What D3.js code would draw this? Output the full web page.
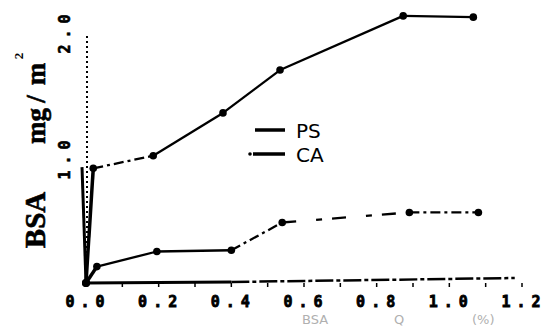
<!DOCTYPE html>
<html><head><meta charset="utf-8">
<script src="https://cdn.jsdelivr.net/npm/d3@7"></script>
<style>html,body{margin:0;padding:0;background:#fff;}svg{display:block;}</style>
</head><body>
<svg id="c" width="548" height="328"></svg>
<script>
// ---- data ----
const xTickValues = [0, 0.2, 0.4, 0.6, 0.8, 1.0, 1.2];
const xTickLabels = ["0.0", "0.2", "0.4", "0.6", "0.8", "1.0", "1.2"];
const yTickValues = [1.0, 2.0];
const yTickLabels = ["1.0", "2.0"];
const seriesNames = ["PS", "CA"];
const psConc = [0, 0.02, 0.185, 0.377, 0.534, 0.873, 1.066];
const psValues = [0, 0.91, 1.01, 1.35, 1.69, 2.12, 2.11];
const caConc = [0, 0.03, 0.195, 0.40, 0.54, 0.89, 1.08];
const caValues = [0, 0.13, 0.25, 0.26, 0.48, 0.56, 0.56];

const svg = d3.select("#c");
const x = d3.scaleLinear().domain([0, 1.2]).range([86, 522]);
const y = d3.scaleLinear().domain([0, 2.0]).range([283, 31]);

// y axis (dotted)
svg.append("line").attr("x1", x(0)+1).attr("x2", x(0)+1).attr("y1", y(0)).attr("y2", 33)
  .attr("stroke", "#000").attr("stroke-width", 2).attr("stroke-dasharray", "2,3");
svg.append("line").attr("x1", x(0)-4).attr("x2", x(0)).attr("y1", y(0.92)).attr("y2", y(0))
  .attr("stroke", "#000").attr("stroke-width", 3);

// x axis
svg.append("line").attr("x1", x(0)).attr("x2", x(0.4)).attr("y1", y(0)).attr("y2", y(0)-1)
  .attr("stroke", "#000").attr("stroke-width", 3);
svg.append("line").attr("x1", x(0.4)).attr("x2", x(1.18)).attr("y1", y(0)-1).attr("y2", y(0)-5)
  .attr("stroke", "#000").attr("stroke-width", 2.5).attr("stroke-dasharray", "18,3,4,3");
// minor ticks
const minor = d3.range(0, 1.21, 0.1);
svg.selectAll(".mt").data(minor).join("line")
  .attr("x1", d => x(d)).attr("x2", d => x(d))
  .attr("y1", y(0)).attr("y2", y(0)+4)
  .attr("stroke", "#000").attr("stroke-width", 1.5);

// x tick labels
svg.selectAll(".xl").data(xTickValues).join("text")
  .attr("x", d => x(d) + 2).attr("y", 307)
  .attr("text-anchor", "middle")
  .attr("font-family", "DejaVu Sans Mono, monospace").attr("font-weight", "bold")
  .attr("font-size", 15).attr("letter-spacing", 6)
  .attr("stroke", "#000").attr("stroke-width", 0.8)
  .text((d, i) => xTickLabels[i]);

// y tick labels (rotated)
svg.selectAll(".yl").data(yTickValues).join("text")
  .attr("transform", d => `translate(70,${y(d)}) rotate(-90)`)
  .attr("text-anchor", "middle")
  .attr("font-family", "DejaVu Sans Mono, monospace").attr("font-weight", "bold")
  .attr("font-size", 15).attr("letter-spacing", 6)
  .attr("stroke", "#000").attr("stroke-width", 0.6)
  .text((d, i) => yTickLabels[i]);

// y title pieces
const yt = [["BSA", 220, 29], ["mg", 126, 27], ["/", 99, 27], ["m", 74, 27]];
yt.forEach(([t, cy, fs]) => {
  svg.append("text").attr("transform", `translate(45,${cy}) rotate(-90)`)
    .attr("text-anchor", "middle").attr("font-family", "Liberation Serif, serif")
    .attr("font-weight", "bold").attr("font-size", fs)
    .attr("stroke", "#000").attr("stroke-width", 0.6).text(t);
});
svg.append("text").attr("transform", `translate(23,56) rotate(-90)`)
  .attr("text-anchor", "middle").attr("font-family", "Liberation Serif, serif")
  .attr("font-weight", "bold").attr("font-size", 13).text("2");

// x title (faint)
const xt = svg.append("text").attr("y", 324).attr("font-family", "DejaVu Sans, sans-serif")
  .attr("font-size", 13).attr("fill", "#b0b0b0");
xt.append("tspan").attr("x", 302).text("BSA");
xt.append("tspan").attr("x", 394).text("Q");
xt.append("tspan").attr("x", 472).text("(%)");

// series
const series = [
  {name: seriesNames[0], xs: psConc, ys: psValues},
  {name: seriesNames[1], xs: caConc, ys: caValues}
];
series.forEach((s, si) => {
  const pts = s.xs.map((c, i) => [x(c), y(s.ys[i])]);
  for (let i = 0; i < pts.length - 1; i++) {
    let dash = null;
    if (si === 0 && i === 1) dash = "10,4,3,4";
    if (si === 1 && i >= 3) dash = (i === 4) ? "14,20,6,10" : "10,4,3,4";
    svg.append("line")
      .attr("x1", pts[i][0]).attr("y1", pts[i][1])
      .attr("x2", pts[i+1][0]).attr("y2", pts[i+1][1])
      .attr("stroke", "#000").attr("stroke-width", i === 0 ? 3.5 : 2.3)
      .attr("stroke-dasharray", dash);
  }
  svg.selectAll(".p" + si).data(pts.slice(1)).join("circle")
    .attr("cx", d => d[0]).attr("cy", d => d[1]).attr("r", 3.8).attr("fill", "#000");
  svg.append("circle").attr("cx", pts[0][0]).attr("cy", pts[0][1]).attr("r", 4).attr("fill", "#000");
});

// legend
const leg = [[seriesNames[0], 130], [seriesNames[1], 154]];
leg.forEach(([n, ly], i) => {
  svg.append("line").attr("x1", i ? 253 : 255).attr("x2", 285).attr("y1", ly).attr("y2", ly)
    .attr("stroke", "#000").attr("stroke-width", 3.5);
  if (i) svg.append("circle").attr("cx", 250).attr("cy", ly).attr("r", 1.8).attr("fill", "#000");
  svg.append("text").attr("x", 296).attr("y", ly + 8)
    .attr("font-family", "DejaVu Sans, sans-serif").attr("font-size", 20).text(n);
});
</script>
</body></html>
